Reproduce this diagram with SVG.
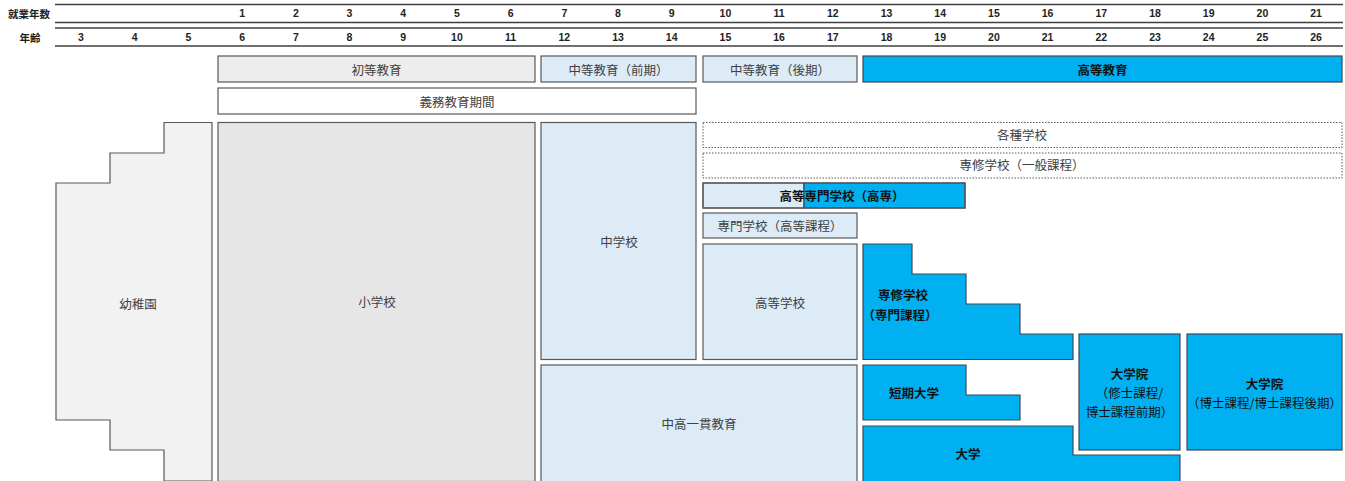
<svg xmlns="http://www.w3.org/2000/svg" width="1345" height="481" viewBox="0 0 1345 481">
<style>
text{font-family:"Noto Sans CJK JP","Noto Sans",sans-serif;text-anchor:middle;dominant-baseline:central}
.num{font-family:"Liberation Sans",Arial,sans-serif;font-weight:bold;font-size:10.5px;fill:#222}
.hd{font-weight:bold;font-size:10.5px;fill:#222}
.lbl{font-size:12.5px;fill:#404040}
.bl{font-size:12.5px;font-weight:bold;fill:#111}
.gray{fill:#ededed;stroke:#595959;stroke-width:1.2}
.kg{fill:#f2f2f2;stroke:#595959;stroke-width:1.2}
.es{fill:#e7e6e6;stroke:#595959;stroke-width:1.2}
.lb{fill:#ddebf7;stroke:#595959;stroke-width:1.2}
.wh{fill:#fff;stroke:#595959;stroke-width:1.2}
.dot{fill:#fff;stroke:#595959;stroke-width:1;stroke-dasharray:1.5 1.5}
.blue{fill:#00b0f0;stroke:#3b4a5a;stroke-width:1.2}
.hl{stroke:#404040;stroke-width:1.3;fill:none}
</style>
<g id="header">
<line class="hl" x1="55" y1="4.5" x2="1343" y2="4.5"/>
<line class="hl" x1="55" y1="22.5" x2="1343" y2="22.5"/>
<line class="hl" x1="55" y1="28" x2="1343" y2="28"/>
<line class="hl" x1="55" y1="46" x2="1343" y2="46"/>
<text class="hd" x="29" y="13">就業年数</text>
<text class="hd" x="30" y="37">年齢</text>
<g class="years">
<text class="num" x="242.1" y="13">1</text>
<text class="num" x="295.8" y="13">2</text>
<text class="num" x="349.5" y="13">3</text>
<text class="num" x="403.2" y="13">4</text>
<text class="num" x="456.9" y="13">5</text>
<text class="num" x="510.6" y="13">6</text>
<text class="num" x="564.3" y="13">7</text>
<text class="num" x="618" y="13">8</text>
<text class="num" x="671.7" y="13">9</text>
<text class="num" x="725.4" y="13">10</text>
<text class="num" x="779.1" y="13">11</text>
<text class="num" x="832.8" y="13">12</text>
<text class="num" x="886.5" y="13">13</text>
<text class="num" x="940.2" y="13">14</text>
<text class="num" x="993.9" y="13">15</text>
<text class="num" x="1047.6" y="13">16</text>
<text class="num" x="1101.3" y="13">17</text>
<text class="num" x="1155" y="13">18</text>
<text class="num" x="1208.7" y="13">19</text>
<text class="num" x="1262.4" y="13">20</text>
<text class="num" x="1316.1" y="13">21</text>
</g>
<g class="ages">
<text class="num" x="81" y="37">3</text>
<text class="num" x="134.7" y="37">4</text>
<text class="num" x="188.4" y="37">5</text>
<text class="num" x="242.1" y="37">6</text>
<text class="num" x="295.8" y="37">7</text>
<text class="num" x="349.5" y="37">8</text>
<text class="num" x="403.2" y="37">9</text>
<text class="num" x="456.9" y="37">10</text>
<text class="num" x="510.6" y="37">11</text>
<text class="num" x="564.3" y="37">12</text>
<text class="num" x="618" y="37">13</text>
<text class="num" x="671.7" y="37">14</text>
<text class="num" x="725.4" y="37">15</text>
<text class="num" x="779.1" y="37">16</text>
<text class="num" x="832.8" y="37">17</text>
<text class="num" x="886.5" y="37">18</text>
<text class="num" x="940.2" y="37">19</text>
<text class="num" x="993.9" y="37">20</text>
<text class="num" x="1047.6" y="37">21</text>
<text class="num" x="1101.3" y="37">22</text>
<text class="num" x="1155" y="37">23</text>
<text class="num" x="1208.7" y="37">24</text>
<text class="num" x="1262.4" y="37">25</text>
<text class="num" x="1316.1" y="37">26</text>
</g>
</g>
<g id="shoto-kyoiku"><rect class="gray" x="218" y="56" width="317" height="26"/><text class="lbl" x="376.5" y="69">初等教育</text></g>
<g id="chuto-zenki"><rect class="lb" x="541" y="56" width="155" height="26"/><text class="lbl" x="618.5" y="69">中等教育（前期）</text></g>
<g id="chuto-koki"><rect class="lb" x="703" y="56" width="154" height="26"/><text class="lbl" x="780" y="69">中等教育（後期）</text></g>
<g id="koto-kyoiku"><rect class="blue" x="863" y="56" width="479" height="26"/><text class="bl" x="1102.5" y="69">高等教育</text></g>
<g id="gimu"><rect class="wh" x="218" y="88" width="478" height="26"/><text class="lbl" x="457" y="101">義務教育期間</text></g>
<g id="yochien"><polygon class="kg" points="164,122.5 212,122.5 212,481 164,481 164,450 110,450 110,420 56,420 56,183 110,183 110,153 164,153"/><text class="lbl" x="138" y="303">幼稚園</text></g>
<g id="shogakko"><rect class="es" x="218" y="122.5" width="317" height="359"/><text class="lbl" x="377" y="301">小学校</text></g>
<g id="chugakko"><rect class="lb" x="541" y="122.5" width="155" height="237"/><text class="lbl" x="619" y="241">中学校</text></g>
<g id="chuko-ikkan"><rect class="lb" x="541" y="365" width="316" height="117"/><text class="lbl" x="699" y="423">中高一貫教育</text></g>
<g id="kakushu"><rect class="dot" x="703" y="122.5" width="639" height="25"/><text class="lbl" x="1022" y="134">各種学校</text></g>
<g id="senshu-ippan"><rect class="dot" x="703" y="153" width="639" height="25"/><text class="lbl" x="1022" y="164.5">専修学校（一般課程）</text></g>
<g id="kosen"><rect class="lb" x="703" y="183" width="101" height="25"/><rect class="blue" x="804" y="183" width="161" height="25"/><rect x="703" y="183" width="262" height="25" fill="none" stroke="#595959" stroke-width="1.2"/><text class="bl" x="842" y="195.5">高等専門学校（高専）</text></g>
<g id="senmon-koto"><rect class="lb" x="703" y="213" width="154" height="25"/><text class="lbl" x="780" y="225.5">専門学校（高等課程）</text></g>
<g id="kotogakko"><rect class="lb" x="703" y="244" width="154" height="115.5"/><text class="lbl" x="780" y="302">高等学校</text></g>
<g id="senshu-senmon"><polygon class="blue" points="863,244 912,244 912,274 966,274 966,304 1020,304 1020,334 1073,334 1073,359.5 863,359.5"/><text class="bl" x="903" y="294">専修学校</text><text class="bl" x="900" y="314">（専門課程）</text></g>
<g id="tanki"><polygon class="blue" points="863,365 966,365 966,395 1020,395 1020,420 863,420"/><text class="bl" x="914" y="392">短期大学</text></g>
<g id="daigaku"><polygon class="blue" points="863,426 1073,426 1073,455 1180,455 1180,482 863,482"/><text class="bl" x="968" y="453">大学</text></g>
<g id="daigakuin-shushi"><rect class="blue" x="1079" y="334" width="101" height="116"/><text class="bl" x="1129.5" y="373">大学院</text><text class="lbl" x="1129.5" y="392" style="fill:#111">（修士課程/</text><text class="lbl" x="1129.5" y="411" style="fill:#111">博士課程前期）</text></g>
<g id="daigakuin-hakushi"><rect class="blue" x="1187" y="334" width="155" height="116"/><text class="bl" x="1264.5" y="383">大学院</text><text class="lbl" x="1264.5" y="402" style="fill:#111">（博士課程/博士課程後期）</text></g>
<g id="connectors"/>
</svg>
